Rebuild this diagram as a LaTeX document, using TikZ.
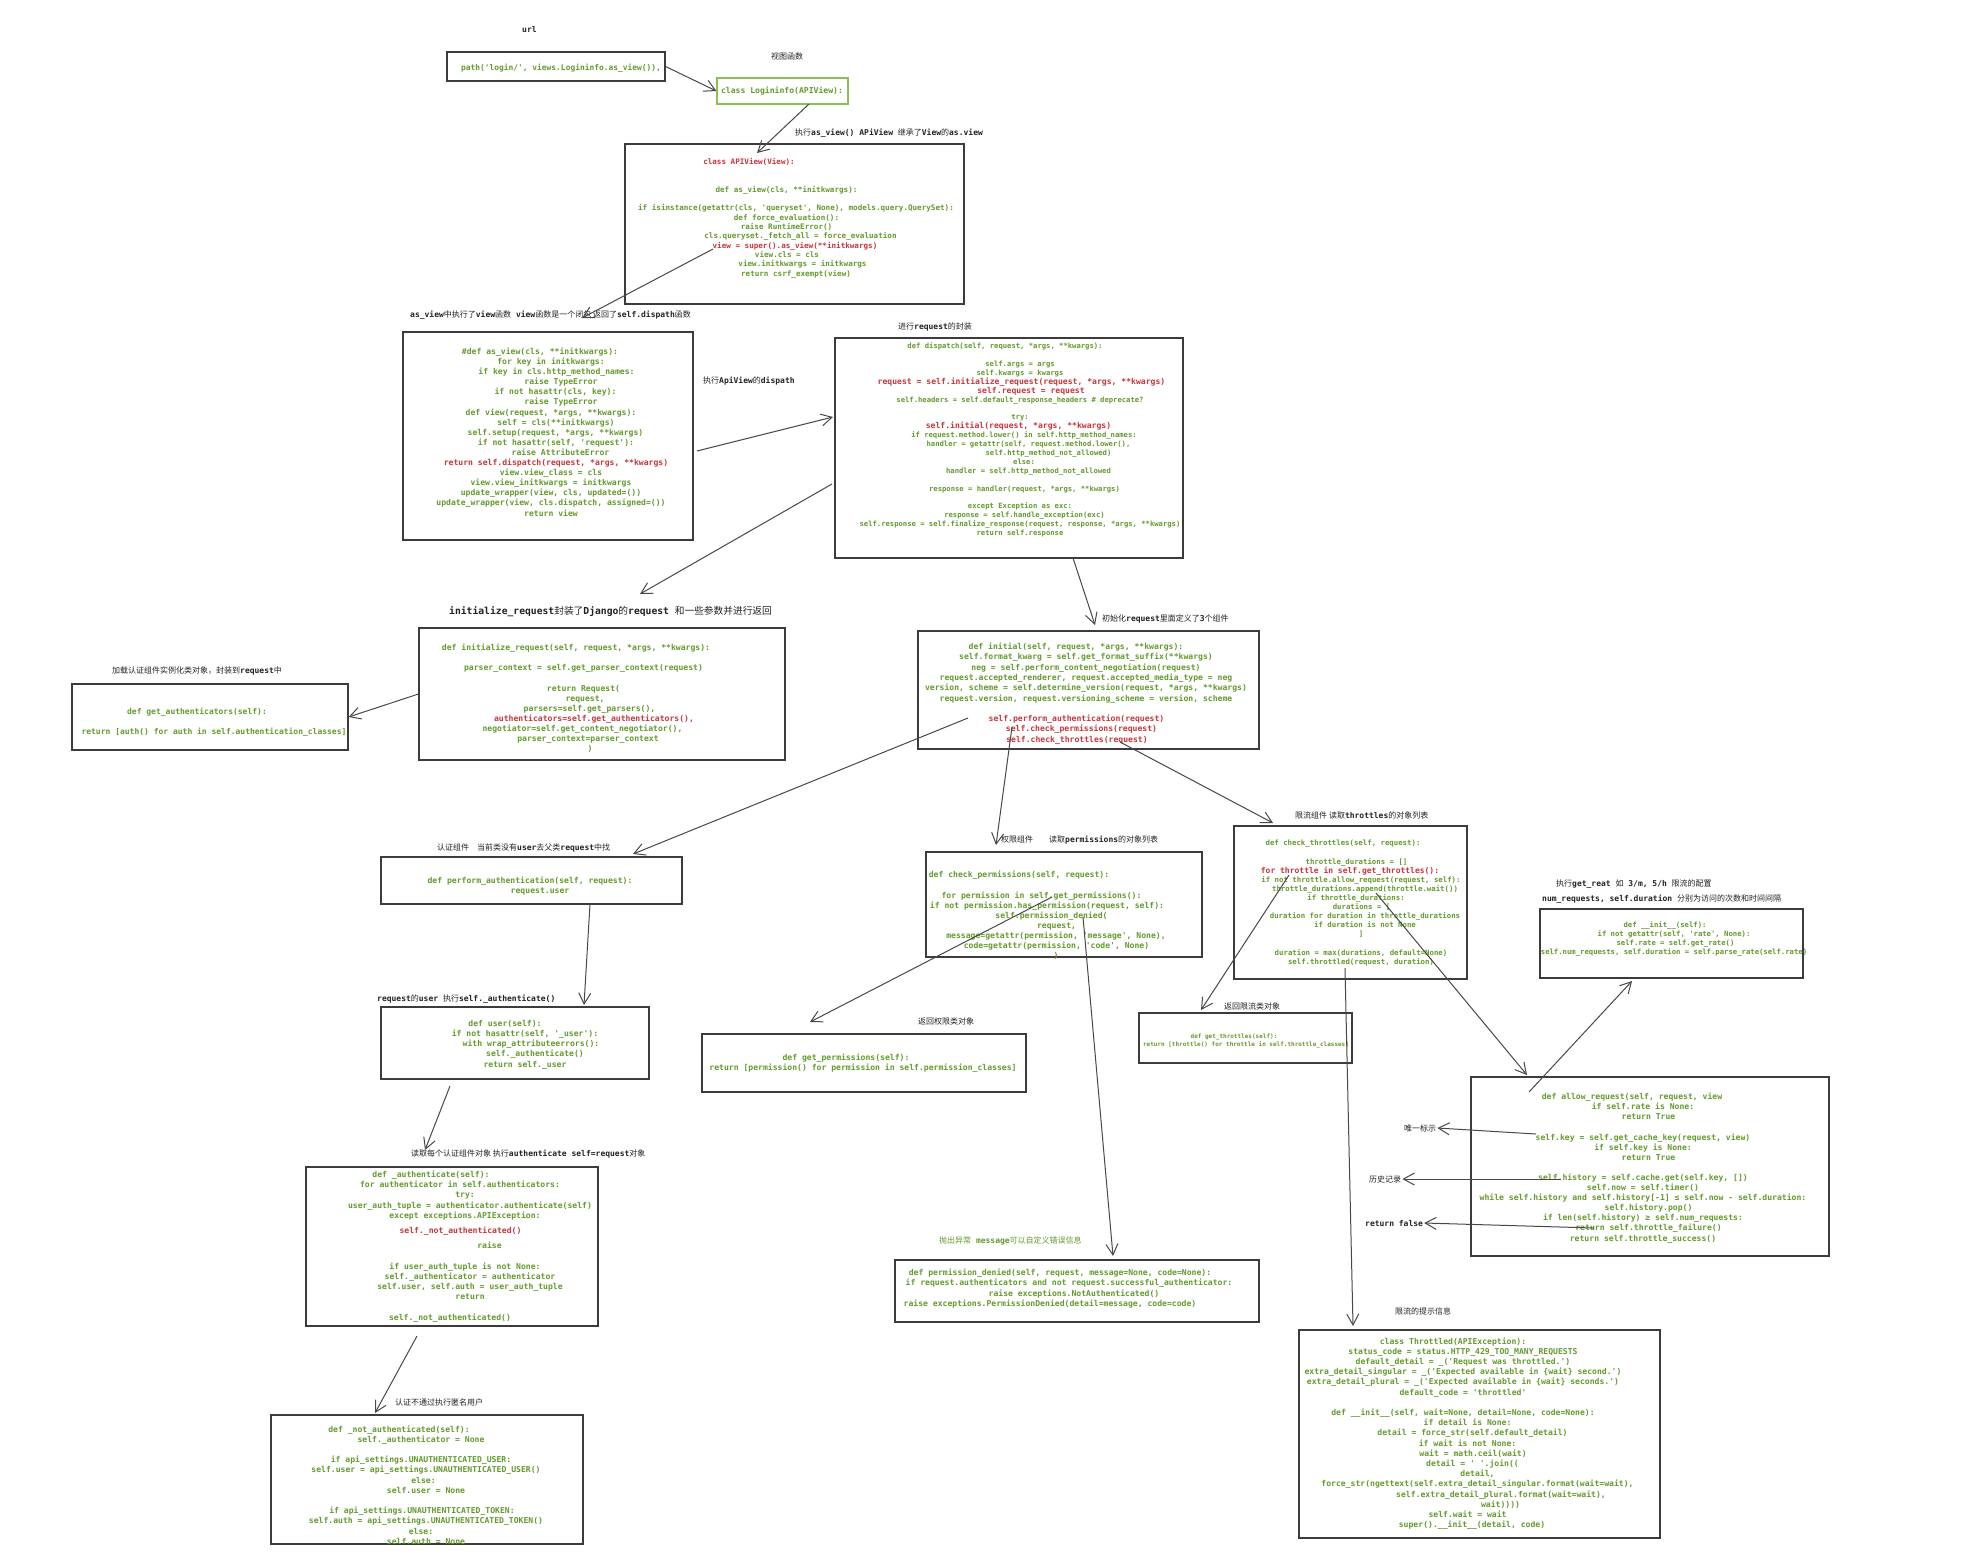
\documentclass[tikz,border=0pt]{standalone}
\usepackage{fontspec}
\setmonofont{DejaVu Sans Mono}
\newfontfamily\cjk{Noto Sans CJK SC}
\usepackage{xcolor}
\usepackage{tikz}
\usetikzlibrary{arrows.meta}
\definecolor{CodeGreen}{HTML}{649A2E}
\definecolor{CodeRed}{HTML}{C8363B}
\definecolor{Frame}{HTML}{3C3C3C}
\definecolor{ArrowInk}{HTML}{484848}
\definecolor{LabelInk}{HTML}{222222}
\definecolor{LoginFrame}{HTML}{8CC152}

\newcommand\zh[1]{{\cjk\mdseries #1}}
\newcommand\redln[1]{\textcolor{CodeRed}{#1}}
\newcommand\redsz[2]{{\fontsize{#1}{#1}\selectfont\color{CodeRed}#2}}
\newcommand\shiftln[2]{\hspace*{#1pt}#2\hspace*{-#1pt}}

\begin{document}
\begin{tikzpicture}[
    x=1pt,
    y=-1pt,
    codebox/.style={draw=Frame, line width=1.2pt, inner sep=0pt},
    codetxt/.style={text=CodeGreen, align=center, inner sep=0pt, font=\ttfamily\bfseries\fontsize{8.1}{10.1}\selectfont},
    lbl/.style={anchor=west, inner sep=1pt, text=LabelInk, font=\ttfamily\bfseries\fontsize{8}{10}\selectfont},
    flow/.style={-{Straight Barb[length=11pt,width=12pt]}, draw=ArrowInk, line width=1pt}
  ]
  \fill[white] (0,0) rectangle (1980,1556);
  \useasboundingbox (0,0) rectangle (1980,1556);

  % boxes
  \node[codebox, minimum width=218pt, minimum height=29pt] (pathbox) at (556,66.5) {};
  \node[codebox, draw=LoginFrame, minimum width=131pt, minimum height=26pt] (loginbox) at (782.5,91) {};
  \node[codebox, minimum width=339pt, minimum height=160pt] (apiview) at (794.5,224) {};
  \node[codebox, minimum width=290pt, minimum height=208pt] (asview) at (548,436) {};
  \node[codebox, minimum width=348pt, minimum height=220pt] (dispatch) at (1009,448) {};
  \node[codebox, minimum width=366pt, minimum height=132pt] (initreq) at (602,694) {};
  \node[codebox, minimum width=276pt, minimum height=66pt] (getauth) at (210,717) {};
  \node[codebox, minimum width=341pt, minimum height=118pt] (initial) at (1088.5,690) {};
  \node[codebox, minimum width=301pt, minimum height=47pt] (perfauth) at (531.5,880.5) {};
  \node[codebox, minimum width=268pt, minimum height=72pt] (user) at (515,1043) {};
  \node[codebox, minimum width=292pt, minimum height=159pt] (authn) at (452,1246.5) {};
  \node[codebox, minimum width=312pt, minimum height=129pt] (notauth) at (427,1479.5) {};
  \node[codebox, minimum width=276pt, minimum height=105pt] (chkperm) at (1064,904.5) {};
  \node[codebox, minimum width=324pt, minimum height=58pt] (getperm) at (864,1063) {};
  \node[codebox, minimum width=364pt, minimum height=62pt] (denied) at (1077,1291) {};
  \node[codebox, minimum width=233pt, minimum height=153pt] (chkthr) at (1350.5,902.5) {};
  \node[codebox, minimum width=213pt, minimum height=50pt] (getthr) at (1245.5,1038) {};
  \node[codebox, minimum width=263pt, minimum height=69pt] (rateinit) at (1671.5,943.5) {};
  \node[codebox, minimum width=358pt, minimum height=179pt] (allow) at (1650,1166.5) {};
  \node[codebox, minimum width=361pt, minimum height=208pt] (throttled) at (1479.5,1434) {};

  % code
  \node[codetxt, font=\ttfamily\bfseries\fontsize{7.9}{10}\selectfont] (pathbox-code) at (561,68) {path('login/', views.Logininfo.as\_view()),};
  \node[codetxt, font=\ttfamily\bfseries\fontsize{8.1}{10}\selectfont] (loginbox-code) at (782,91) {class Logininfo(APIView):};

  \node[codetxt, font=\ttfamily\bfseries\fontsize{7.6}{9.3}\selectfont] (apiview-code) at (796,218) {
    \shiftln{-47}{\redln{class APIView(View):}}\\[18.6pt]
    \shiftln{-19}{def as\_view(cls, **initkwargs):}\\[9.3pt]
    if isinstance(getattr(cls, 'queryset', None), models.query.QuerySet):\\
    \shiftln{-19}{def force\_evaluation():}\\
    \shiftln{-19}{raise RuntimeError()}\\
    \shiftln{9}{cls.queryset.\_fetch\_all = force\_evaluation}\\
    \shiftln{-2}{\redln{view = super().as\_view(**initkwargs)}}\\
    \shiftln{-18}{view.cls = cls}\\
    \shiftln{13}{view.initkwargs = initkwargs}\\
    return csrf\_exempt(view)};

  \node[codetxt] (asview-code) at (551,432) {
    \shiftln{-11}{\#def as\_view(cls, **initkwargs):}\\
    for key in initkwargs:\\
    \shiftln{11}{if key in cls.http\_method\_names:}\\
    \shiftln{20}{raise TypeError}\\
    \shiftln{9}{if not hasattr(cls, key):}\\
    \shiftln{20}{raise TypeError}\\
    def view(request, *args, **kwargs):\\
    \shiftln{10}{self = cls(**initkwargs)}\\
    \shiftln{9}{self.setup(request, *args, **kwargs)}\\
    \shiftln{10}{if not hasattr(self, 'request'):}\\
    \shiftln{19}{raise AttributeError}\\
    \shiftln{10}{\redln{return self.dispatch(request, *args, **kwargs)}}\\
    view.view\_class = cls\\
    view.view\_initkwargs = initkwargs\\
    update\_wrapper(view, cls, updated=())\\
    update\_wrapper(view, cls.dispatch, assigned=())\\
    return view};

  \node[codetxt, font=\ttfamily\bfseries\fontsize{7.2}{8.9}\selectfont] (dispatch-code) at (1020,440) {
    \shiftln{-15}{def dispatch(self, request, *args, **kwargs):}\\[8.9pt]
    self.args = args\\
    self.kwargs = kwargs\\
    \shiftln{3}{\redsz{8.1}{request = self.initialize\_request(request, *args, **kwargs)}}\\
    \shiftln{22}{\redsz{8.1}{self.request = request}}\\
    self.headers = self.default\_response\_headers \# deprecate?\\[8.9pt]
    try:\\
    \shiftln{-3}{\redsz{8.1}{self.initial(request, *args, **kwargs)}}\\
    \shiftln{8}{if request.method.lower() in self.http\_method\_names:}\\
    \shiftln{17}{handler = getattr(self, request.method.lower(),}\\
    \shiftln{57}{self.http\_method\_not\_allowed)}\\
    \shiftln{8}{else:}\\
    \shiftln{17}{handler = self.http\_method\_not\_allowed}\\[8.9pt]
    \shiftln{9}{response = handler(request, *args, **kwargs)}\\[8.9pt]
    except Exception as exc:\\
    \shiftln{9}{response = self.handle\_exception(exc)}\\
    self.response = self.finalize\_response(request, response, *args, **kwargs)\\
    return self.response};

  \node[codetxt] (initreq-code) at (576,698.5) {
    def initialize\_request(self, request, *args, **kwargs):\\[10.1pt]
    \shiftln{15}{parser\_context = self.get\_parser\_context(request)}\\[10.1pt]
    \shiftln{15}{return Request(}\\
    \shiftln{18}{request,}\\
    \shiftln{27}{parsers=self.get\_parsers(),}\\
    \shiftln{36}{\redln{authenticators=self.get\_authenticators(),}}\\
    \shiftln{13}{negotiator=self.get\_content\_negotiator(),}\\
    \shiftln{24}{parser\_context=parser\_context}\\
    \shiftln{14}{)}};

  \node[codetxt, font=\ttfamily\bfseries\fontsize{8}{10}\selectfont] (getauth-code) at (214,722) {
    \shiftln{-17}{def get\_authenticators(self):}\\[10pt]
    return [auth() for auth in self.authentication\_classes]};

  \node[codetxt, font=\ttfamily\bfseries\fontsize{8.1}{10.3}\selectfont] (initial-code) at (1086,693.5) {
    \shiftln{-10}{def initial(self, request, *args, **kwargs):}\\
    self.format\_kwarg = self.get\_format\_suffix(**kwargs)\\
    neg = self.perform\_content\_negotiation(request)\\
    request.accepted\_renderer, request.accepted\_media\_type = neg\\
    version, scheme = self.determine\_version(request, *args, **kwargs)\\
    request.version, request.versioning\_scheme = version, scheme\\[10.3pt]
    \shiftln{-19}{\redln{self.perform\_authentication(request)}}\\
    \shiftln{-9}{\redln{self.check\_permissions(request)}}\\
    \shiftln{-9}{\redln{self.check\_throttles(request)}}};

  \node[codetxt] (perfauth-code) at (530,886) {
    def perform\_authentication(self, request):\\
    \shiftln{10}{request.user}};

  \node[codetxt, font=\ttfamily\bfseries\fontsize{8.1}{10.2}\selectfont] (user-code) at (525,1044.5) {
    \shiftln{-20}{def user(self):}\\
    if not hasattr(self, '\_user'):\\
    \shiftln{12}{with wrap\_attributeerrors():}\\
    \shiftln{20}{self.\_authenticate()}\\
    return self.\_user};

  \node[codetxt, font=\ttfamily\bfseries\fontsize{8.1}{10.2}\selectfont] (authn-code) at (470,1246.5) {
    \shiftln{-39}{def \_authenticate(self):}\\
    \shiftln{-20}{for authenticator in self.authenticators:}\\
    \shiftln{-10}{try:}\\
    user\_auth\_tuple = authenticator.authenticate(self)\\
    \shiftln{-10}{except exceptions.APIException:}\\[5pt]
    \shiftln{-19}{\redln{self.\_not\_authenticated()}}\\[5pt]
    \shiftln{39}{raise}\\[10.2pt]
    \shiftln{-10}{if user\_auth\_tuple is not None:}\\
    self.\_authenticator = authenticator\\
    self.user, self.auth = user\_auth\_tuple\\
    return\\[10.2pt]
    \shiftln{-20}{self.\_not\_authenticated()}};

  \node[codetxt, font=\ttfamily\bfseries\fontsize{8.1}{10.2}\selectfont] (notauth-code) at (426,1485) {
    \shiftln{-27}{def \_not\_authenticated(self):}\\
    \shiftln{-10}{self.\_authenticator = None}\\[10.2pt]
    \shiftln{-10}{if api\_settings.UNAUTHENTICATED\_USER:}\\
    self.user = api\_settings.UNAUTHENTICATED\_USER()\\
    \shiftln{-5}{else:}\\
    self.user = None\\[10.2pt]
    \shiftln{-8}{if api\_settings.UNAUTHENTICATED\_TOKEN:}\\
    self.auth = api\_settings.UNAUTHENTICATED\_TOKEN()\\
    \shiftln{-10}{else:}\\
    self.auth = None};

  \node[codetxt] (chkperm-code) at (1047,915.5) {
    \shiftln{-28}{def check\_permissions(self, request):}\\[10.1pt]
    \shiftln{-11}{for permission in self.get\_permissions():}\\
    if not permission.has\_permission(request, self):\\
    \shiftln{9}{self.permission\_denied(}\\
    \shiftln{19}{request,}\\
    \shiftln{18}{message=getattr(permission, 'message', None),}\\
    \shiftln{19}{code=getattr(permission, 'code', None)}\\
    \shiftln{9}{)}};

  \node[codetxt, font=\ttfamily\bfseries\fontsize{8.1}{10}\selectfont] (getperm-code) at (863,1063) {
    \shiftln{-17}{def get\_permissions(self):}\\
    return [permission() for permission in self.permission\_classes]};

  \node[codetxt, font=\ttfamily\bfseries\fontsize{8.1}{10.3}\selectfont] (denied-code) at (1069,1288.5) {
    \shiftln{-9}{def permission\_denied(self, request, message=None, code=None):}\\
    if request.authenticators and not request.successful\_authenticator:\\
    \shiftln{10}{raise exceptions.NotAuthenticated()}\\
    \shiftln{-19}{raise exceptions.PermissionDenied(detail=message, code=code)}};

  \node[codetxt, font=\ttfamily\bfseries\fontsize{7.35}{9.1}\selectfont] (chkthr-code) at (1361,903) {
    \shiftln{-18}{def check\_throttles(self, request):}\\[9.1pt]
    \shiftln{-9}{throttle\_durations = []}\\
    \shiftln{-22}{\redsz{8}{for throttle in self.get\_throttles():}}\\
    if not throttle.allow\_request(request, self):\\
    \shiftln{8}{throttle\_durations.append(throttle.wait())}\\
    \shiftln{-10}{if throttle\_durations:}\\
    \shiftln{1}{durations = [}\\
    \shiftln{8}{duration for duration in throttle\_durations}\\
    \shiftln{8}{if duration is not None}\\
    ]\\[9.1pt]
    duration = max(durations, default=None)\\
    self.throttled(request, duration)};

  \node[codetxt, font=\ttfamily\bfseries\fontsize{6}{8}\selectfont] (getthr-code) at (1246,1041) {
    \shiftln{-12}{def get\_throttles(self):}\\
    return [throttle() for throttle in self.throttle\_classes]};

  \node[codetxt, font=\ttfamily\bfseries\fontsize{7.25}{9}\selectfont] (rateinit-code) at (1674,938.5) {
    \shiftln{-9}{def \_\_init\_\_(self):}\\
    if not getattr(self, 'rate', None):\\
    \shiftln{3}{self.rate = self.get\_rate()}\\
    self.num\_requests, self.duration = self.parse\_rate(self.rate)};

  \node[codetxt, font=\ttfamily\bfseries\fontsize{8.1}{10.1}\selectfont] (allow-code) at (1643,1168) {
    \shiftln{-11}{def allow\_request(self, request, view}\\
    if self.rate is None:\\
    \shiftln{11}{return True}\\[10.1pt]
    self.key = self.get\_cache\_key(request, view)\\
    if self.key is None:\\
    \shiftln{11}{return True}\\[10.1pt]
    self.history = self.cache.get(self.key, [])\\
    self.now = self.timer()\\
    while self.history and self.history[-1] ≤ self.now - self.duration:\\
    \shiftln{11}{self.history.pop()}\\
    if len(self.history) ≥ self.num\_requests:\\
    \shiftln{11}{return self.throttle\_failure()}\\
    return self.throttle\_success()};

  \node[codetxt, font=\ttfamily\bfseries\fontsize{8.1}{10.2}\selectfont] (throttled-code) at (1463,1433.5) {
    \shiftln{-10}{class Throttled(APIException):}\\
    status\_code = status.HTTP\_429\_TOO\_MANY\_REQUESTS\\
    default\_detail = \_('Request was throttled.')\\
    extra\_detail\_singular = \_('Expected available in \{wait\} second.')\\
    extra\_detail\_plural = \_('Expected available in \{wait\} seconds.')\\
    default\_code = 'throttled'\\[10.2pt]
    def \_\_init\_\_(self, wait=None, detail=None, code=None):\\
    \shiftln{9}{if detail is None:}\\
    \shiftln{19}{detail = force\_str(self.default\_detail)}\\
    \shiftln{9}{if wait is not None:}\\
    \shiftln{20}{wait = math.ceil(wait)}\\
    \shiftln{19}{detail = ' '.join((}\\
    \shiftln{29}{detail,}\\
    \shiftln{29}{force\_str(ngettext(self.extra\_detail\_singular.format(wait=wait),}\\
    \shiftln{76}{self.extra\_detail\_plural.format(wait=wait),}\\
    \shiftln{75}{wait))))}\\
    \shiftln{9}{self.wait = wait}\\
    \shiftln{9}{super().\_\_init\_\_(detail, code)}};

  % labels
  \node[lbl] (urllbl) at (521,30) {url};
  \node[lbl] (viewlbl) at (770,56) {\zh{视图函数}};
  \node[lbl] (inheritlbl) at (794,133) {\zh{执行}as\_view() APiView \zh{继承了}View\zh{的}as.view};
  \node[lbl] (closurelbl) at (409,315) {as\_view\zh{中执行了}view\zh{函数} view\zh{函数是一个闭包 返回了}self.dispath\zh{函数}};
  \node[lbl] (dispatchlbl) at (702,381) {\zh{执行}ApiView\zh{的}dispath};
  \node[lbl] (wraplbl) at (897,327) {\zh{进行}request\zh{的封装}};
  \node[lbl, font=\ttfamily\bfseries\fontsize{9.7}{11}\selectfont] (initreqlbl) at (448,612) {initialize\_request\zh{封装了}Django\zh{的}request \zh{和一些参数并进行返回}};
  \node[lbl] (loadauthlbl) at (111,671) {\zh{加载认证组件实例化类对象，封装到}request\zh{中}};
  \node[lbl] (threelbl) at (1101,619) {\zh{初始化}request\zh{里面定义了}3\zh{个组件}};
  \node[lbl] (authlbl) at (436,848) {\zh{认证组件}\hspace{8pt}\zh{当前类没有}user\zh{去父类}request\zh{中找}};
  \node[lbl] (userlbl) at (376,999) {request\zh{的}user \zh{执行}self.\_authenticate()};
  \node[lbl] (readauthlbl) at (410,1154) {\zh{读取每个认证组件对象 执行}authenticate self=request\zh{对象}};
  \node[lbl] (anonlbl) at (394,1402) {\zh{认证不通过执行匿名用户}};
  \node[lbl] (permlbl) at (1000,840) {\zh{权限组件}\hspace{16pt}\zh{读取}permissions\zh{的对象列表}};
  \node[lbl] (retpermlbl) at (917,1021) {\zh{返回权限类对象}};
  \node[lbl, text=CodeGreen] (deniedlbl) at (938,1241) {\zh{抛出异常} message\zh{可以自定义错误信息}};
  \node[lbl] (thrlbl) at (1294,815) {\zh{限流组件 读取}throttles\zh{的对象列表}};
  \node[lbl] (retthrlbl) at (1223,1006) {\zh{返回限流类对象}};
  \node[lbl] (hintlbl) at (1394,1311) {\zh{限流的提示信息}};
  \node[lbl] (ratelbl) at (1555,884) {\zh{执行}get\_reat \zh{如} 3/m, 5/h \zh{限流的配置}};
  \node[lbl] (numlbl) at (1541,899) {num\_requests, self.duration \zh{分别为访问的次数和时间间隔}};
  \node[lbl] (keylbl) at (1403,1128) {\zh{唯一标示}};
  \node[lbl] (histlbl) at (1368,1179) {\zh{历史记录}};
  \node[lbl] (falselbl) at (1364,1223) {return false};

  % arrow ends
  \coordinate (login-out) at (809,104);
  \coordinate (apiview-in) at (757,153);
  \coordinate (super-call) at (713,249);
  \coordinate (asview-in) at (582,318);
  \coordinate (asview-out) at (697,451);
  \coordinate (dispatch-in) at (833,417);
  \coordinate (initreq-call) at (832,484);
  \coordinate (initreq-in) at (640,594);
  \coordinate (initial-call) at (1073,558);
  \coordinate (initial-in) at (1095,625);
  \coordinate (auth-call) at (968,718);
  \coordinate (perfauth-in) at (633,854);
  \coordinate (perm-call) at (1012,727);
  \coordinate (chkperm-in) at (996,845);
  \coordinate (thr-call) at (1120,742);
  \coordinate (chkthr-in) at (1273,823);
  \coordinate (perfauth-out) at (590,904);
  \coordinate (user-in) at (584,1005);
  \coordinate (user-out) at (450,1086);
  \coordinate (authn-in) at (425,1150);
  \coordinate (authn-out) at (417,1336);
  \coordinate (notauth-in) at (375,1413);
  \coordinate (getperm-call) at (1052,897);
  \coordinate (getperm-in) at (810,1022);
  \coordinate (denied-call) at (1083,917);
  \coordinate (denied-in) at (1113,1256);
  \coordinate (getthr-call) at (1289,875);
  \coordinate (getthr-in) at (1201,1010);
  \coordinate (throttled-call) at (1345,968);
  \coordinate (throttled-in) at (1353,1326);
  \coordinate (allow-call) at (1376,893);
  \coordinate (allow-in) at (1527,1075);
  \coordinate (rate-call) at (1529,1092);
  \coordinate (rateinit-in) at (1632,981);
  \coordinate (key-line) at (1536,1134);
  \coordinate (history-line) at (1561,1179);
  \coordinate (fail-line) at (1594,1228);

  \draw[flow] (pathbox.east) -- (loginbox.west);
  \draw[flow] (login-out) -- (apiview-in);
  \draw[flow] (super-call) -- (asview-in);
  \draw[flow] (asview-out) -- (dispatch-in);
  \draw[flow] (initreq-call) -- (initreq-in);
  \draw[flow] (initial-call) -- (initial-in);
  \draw[flow] (initreq.west) -- (getauth.east);
  \draw[flow] (auth-call) -- (perfauth-in);
  \draw[flow] (perm-call) -- (chkperm-in);
  \draw[flow] (thr-call) -- (chkthr-in);
  \draw[flow] (perfauth-out) -- (user-in);
  \draw[flow] (user-out) -- (authn-in);
  \draw[flow] (authn-out) -- (notauth-in);
  \draw[flow] (getperm-call) -- (getperm-in);
  \draw[flow] (denied-call) -- (denied-in);
  \draw[flow] (getthr-call) -- (getthr-in);
  \draw[flow] (throttled-call) -- (throttled-in);
  \draw[flow] (allow-call) -- (allow-in);
  \draw[flow] (rate-call) -- (rateinit-in);
  \draw[flow] (key-line) -- (keylbl.east);
  \draw[flow] (history-line) -- (histlbl.east);
  \draw[flow] (fail-line) -- (falselbl.east);
\end{tikzpicture}
\end{document}
